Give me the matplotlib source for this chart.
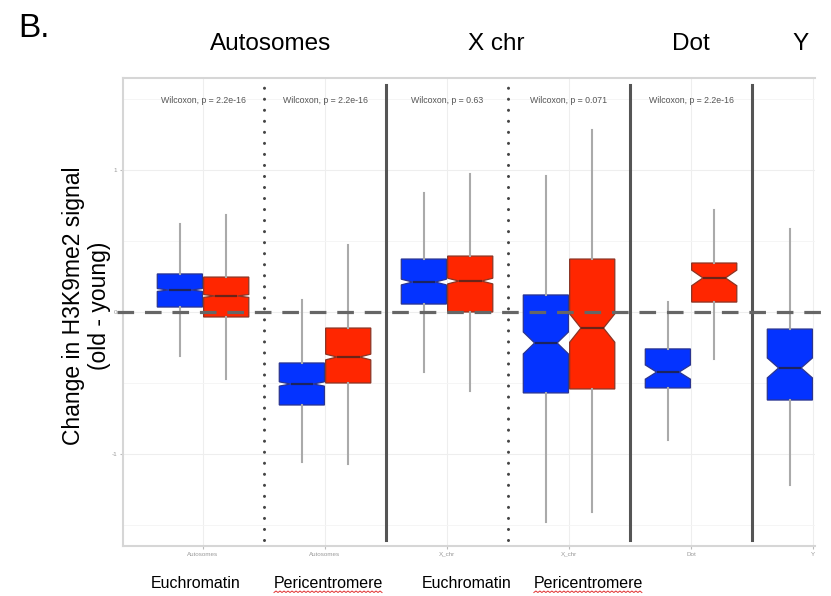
"""Boxplots of the change in H3K9me2 signal (old - young) per chromosome class."""
import numpy as np
import matplotlib; matplotlib.use("Agg")
import matplotlib.pyplot as plt
from matplotlib.lines import Line2D
from matplotlib.transforms import blended_transform_factory

plt.rcParams['font.family'] = ['Liberation Sans', 'DejaVu Sans']

# --- values ---
categories = ["Autosomes", "Autosomes", "X_chr", "X_chr", "Dot", "Y"]
pvalues    = ["2.2e-16", "2.2e-16", "0.63", "0.071", "2.2e-16"]

blue_med   = [0.155, -0.507, 0.211, -0.218, -0.423, -0.394]
blue_q1    = [0.035, -0.655, 0.056, -0.570, -0.535, -0.620]
blue_q3    = [0.268, -0.359, 0.373, 0.120, -0.260, -0.120]
blue_lo    = [-0.310, -1.056, -0.423, -1.479, -0.900, -1.220]
blue_hi    = [0.620, 0.085, 0.838, 0.958, 0.070, 0.585]
blue_notch = [0.010, 0.015, 0.020, 0.077, 0.050, 0.070]

red_med    = [0.113, -0.317, 0.218, -0.113, 0.240]
red_q1     = [-0.035, -0.500, 0.000, -0.542, 0.070]
red_q3     = [0.246, -0.113, 0.394, 0.373, 0.345]
red_lo     = [-0.472, -1.070, -0.556, -1.408, -0.330]
red_hi     = [0.683, 0.472, 0.972, 1.280, 0.720]
red_notch  = [0.010, 0.020, 0.020, 0.100, 0.055]

group_labels   = ["Autosomes", "X chr", "Dot", "Y"]
region_labels  = ["Euchromatin", "Pericentromere", "Euchromatin", "Pericentromere"]
separator_kind = ["dotted", "solid", "dotted", "solid", "solid"]

# --- layout ---
group_label_x  = [1.55, 3.40, 5.00, 5.90]
region_label_x = [0.94, 2.03, 3.16, 4.16]
BLUE, RED = "#0433FF", "#FF2600"


def make_stats(med, q1, q3, lo, hi, notch):
    return [dict(med=m, q1=a, q3=b, whislo=l, whishi=h, cilo=m - n, cihi=m + n, fliers=[])
            for m, a, b, l, h, n in zip(med, q1, q3, lo, hi, notch)]


fig = plt.figure(figsize=(8.31, 5.96), dpi=100)
ax = fig.add_axes([123/831, 50/596, 692/831, 468/596])

x = np.arange(1, len(categories) + 1)
for stats, pos, col, medc, edge in [
        (make_stats(blue_med, blue_q1, blue_q3, blue_lo, blue_hi, blue_notch), x - 0.19, BLUE, "#1c2460", "#2a3490"),
        (make_stats(red_med, red_q1, red_q3, red_lo, red_hi, red_notch), x[:len(red_med)] + 0.19, RED, "#6a2418", "#8a3424")]:
    ax.bxp(stats, positions=pos, widths=0.37, shownotches=True, showfliers=False,
           showcaps=False, patch_artist=True, manage_ticks=False,
           boxprops=dict(facecolor=col, edgecolor=edge, lw=0.9),
           medianprops=dict(color=medc, lw=1.6),
           whiskerprops=dict(color="#aaaaaa", lw=1.5))

ax.set_xlim(0.344, 6.016)
ax.set_ylim(-1.648, 1.648)
ax.set_xticks(x)
ax.set_xticklabels(categories, fontsize=4.5, color="#999999")
ax.set_yticks([-1, 0, 1])
ax.set_yticklabels(["-1", "0", "1"], fontsize=4.5, color="#999999")
ax.set_yticks([-1.5, -0.5, 0.5, 1.5], minor=True)
ax.tick_params(length=2, color="#bbbbbb", pad=2)
ax.tick_params(which="minor", length=0)
ax.grid(True, which="major", color="#eeeeee", lw=0.8)
ax.grid(True, which="minor", axis="y", color="#f4f4f4", lw=0.6)
ax.set_axisbelow(True)
for s in ["left", "bottom", "top"]:
    ax.spines[s].set_color("#d6d6d6"); ax.spines[s].set_linewidth(1.5)
ax.spines["right"].set_visible(False)

for xi, p in zip(x, pvalues):
    ax.text(xi, 1.49, f"Wilcoxon, p = {p}", ha="center", va="center",
            fontsize=6.3, color="#555555")

# hand-drawn overlays: separators and zero line
for xi, kind in zip(x[:-1] + 0.5, separator_kind):
    if kind == "dotted":
        ax.axvline(xi, ymin=0.012, ymax=0.99, color="#444444", lw=2.2,
                   ls=(0, (0.01, 3.6)), dash_capstyle="round", clip_on=False)
    else:
        ax.axvline(xi, ymin=0.012, ymax=0.985, color="#555555", lw=2.2, clip_on=False)
ax.axhline(0, xmin=-0.008, xmax=1.03, color="#666666", lw=2.3,
           ls=(0, (5.2, 3.4)), clip_on=False, zorder=5)

# annotations
fig_y = blended_transform_factory(ax.transData, fig.transFigure)
fig.text(0.022, 0.953, "B.", fontsize=24, ha="left", va="center")
for gx, g in zip(group_label_x, group_labels):
    ax.text(gx, (596 - 44) / 596, g, transform=fig_y, fontsize=17.5, ha="center", va="center")
region_texts = []
for rx, r in zip(region_label_x, region_labels):
    region_texts.append(ax.text(rx, (596 - 583) / 596, r, transform=fig_y,
                                fontsize=11.5, ha="center", va="center"))
fig.text(0.104, 0.487, "Change in H3K9me2 signal\n(old - young)", rotation=90,
         fontsize=16.5, ha="center", va="center", multialignment="center", linespacing=1.15)

# spell-check squiggle under "Pericentromere"
fig.canvas.draw()
r = fig.canvas.get_renderer()
for t in region_texts:
    if t.get_text() != "Pericentromere":
        continue
    bb = t.get_window_extent(r)
    xs = np.arange(bb.x0, bb.x1, 2.0)
    ys = bb.y0 - 2 + np.where(np.arange(len(xs)) % 2 == 0, 0, 1.5)
    fig.add_artist(Line2D(xs / fig.bbox.width, ys / fig.bbox.height,
                          transform=fig.transFigure, color="#e03030", lw=0.7))

fig.savefig("out.png", dpi=100)
